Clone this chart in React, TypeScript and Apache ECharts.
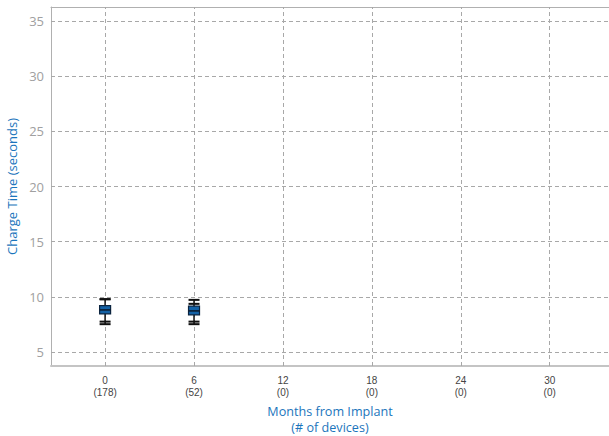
import React, { useEffect, useRef } from "react";
import * as echarts from "echarts";

const months = [0, 6, 12, 18, 24, 30];
const deviceCounts = [178, 52, 0, 0, 0, 0];
const yTicks = [5, 10, 15, 20, 25, 30, 35];
// box plot values per month
const boxMonths = [0, 6];
const boxMin = [7.53, 7.53];
const boxLowWhisker = [7.76, 7.76];
const boxQ1 = [8.46, 8.37];
const boxMedian = [8.82, 8.73];
const boxQ3 = [9.21, 9.16];
const boxHighWhisker = [9.79, 9.37];
const boxMax = [9.79, 9.73];

const BLUE = "#1b75bc";
const FONT = "'Open Sans', 'Noto Sans', sans-serif";
const SMALL_FONT = "'Liberation Sans', Arial, sans-serif";
const X_MIN = -3.65;
const X_MAX = 34;

export default function App() {
  const ref = useRef<HTMLDivElement>(null);
  useEffect(() => {
    if (!ref.current) return;
    const chart = echarts.init(ref.current, null, { renderer: "svg" });
    const boxData = boxMonths.map((m, i) => [
      m,
      boxMin[i],
      boxLowWhisker[i],
      boxQ1[i],
      boxMedian[i],
      boxQ3[i],
      boxHighWhisker[i],
      boxMax[i],
    ]);
    const dash = { color: "#a8a8a8", width: 1, type: [4, 3] as any };
    const smallLabel = {
      customValues: months,
      color: "#444",
      fontSize: 10,
      lineHeight: 11,
      margin: 9,
      fontFamily: SMALL_FONT,
    };
    chart.setOption({
      animation: false,
      textStyle: { fontFamily: FONT },
      grid: {
        left: 51,
        right: 0,
        top: 7,
        bottom: 70,
        containLabel: false,
        outerBoundsMode: "none",
      },
      xAxis: [
        {
          type: "value",
          min: X_MIN,
          max: X_MAX,
          name: "Months from Implant\n(# of devices)",
          nameLocation: "middle",
          nameGap: 37,
          nameTextStyle: { color: BLUE, fontSize: 12.6, lineHeight: 16, fontFamily: FONT },
          axisLine: { show: true, onZero: false, lineStyle: { color: "#c4c4c4", width: 2 } },
          axisTick: {
            show: true,
            inside: true,
            length: 4,
            customValues: months,
            lineStyle: { color: "#bbbbbb" },
          },
          axisLabel: smallLabel,
          splitLine: { show: false },
        },
        {
          type: "value",
          position: "top",
          min: X_MIN,
          max: X_MAX,
          axisLine: { show: true, onZero: false, lineStyle: { color: "#b0b0b0", width: 1 } },
          axisTick: { show: false },
          axisLabel: { show: false },
          splitLine: { show: false },
        },
        {
          type: "value",
          position: "bottom",
          offset: 11.5,
          min: X_MIN,
          max: X_MAX,
          axisLine: { show: false, onZero: false },
          axisTick: { show: false },
          axisLabel: {
            ...smallLabel,
            formatter: (v: number) => `(${deviceCounts[months.indexOf(v)]})`,
          },
          splitLine: { show: false },
        },
      ],
      yAxis: {
        type: "value",
        min: 3.74,
        max: 36.26,
        name: "Charge Time (seconds)",
        nameLocation: "middle",
        nameGap: 28,
        nameTextStyle: { color: BLUE, fontSize: 13, fontFamily: FONT },
        axisLine: { show: true, onZero: false, lineStyle: { color: "#b0b0b0", width: 1 } },
        axisTick: { show: false },
        axisLabel: {
          customValues: yTicks,
          color: "#a0a0a0",
          fontSize: 13,
          margin: 7,
          fontFamily: FONT,
        },
        splitLine: { show: false },
      },
      series: [
        {
          type: "custom",
          xAxisIndex: 0,
          yAxisIndex: 0,
          silent: true,
          data: boxData,
          z: 5,
          encode: { x: 0, y: [1, 2, 3, 4, 5, 6, 7] },
          markLine: {
            silent: true,
            symbol: "none",
            label: { show: false },
            lineStyle: dash,
            z: 1,
            data: [
              ...yTicks.map((v) => ({ yAxis: v })),
              ...months.map((v) => ({ xAxis: v })),
            ],
          },
          renderItem: (params: any, api: any) => {
            const x = api.value(0);
            const p = (k: number) => api.coord([x, api.value(k)]);
            const cx = p(1)[0];
            const yMin = p(1)[1];
            const yLw = p(2)[1];
            const yQ1 = p(3)[1];
            const yMed = p(4)[1];
            const yQ3 = p(5)[1];
            const yHw = p(6)[1];
            const yMax = p(7)[1];
            const hw = 5.5;
            const capStyle = { stroke: "#111", lineWidth: 2 };
            const children: any[] = [
              {
                type: "line",
                shape: { x1: cx, y1: yMin, x2: cx, y2: yMax },
                style: { stroke: "#111", lineWidth: 1.5 },
              },
              {
                type: "line",
                shape: { x1: cx - hw, y1: yMin, x2: cx + hw, y2: yMin },
                style: capStyle,
              },
              {
                type: "line",
                shape: { x1: cx - hw, y1: yLw, x2: cx + hw, y2: yLw },
                style: capStyle,
              },
              {
                type: "line",
                shape: { x1: cx - hw, y1: yHw, x2: cx + hw, y2: yHw },
                style: capStyle,
              },
              {
                type: "line",
                shape: { x1: cx - hw, y1: yMax, x2: cx + hw, y2: yMax },
                style: capStyle,
              },
              {
                type: "rect",
                shape: { x: cx - hw, y: yQ3, width: hw * 2, height: yQ1 - yQ3 },
                style: { fill: "#1462a6", stroke: "#0b2440", lineWidth: 1.2 },
              },
              {
                type: "line",
                shape: { x1: cx - hw, y1: yMed, x2: cx + hw, y2: yMed },
                style: { stroke: "#0b1a2c", lineWidth: 1.5 },
              },
            ];
            return { type: "group", children };
          },
        },
      ],
    });
    return () => chart.dispose();
  }, []);
  return (
    <div
      ref={ref}
      style={{ position: "fixed", left: 0, top: 0, width: 609, height: 436, background: "#fff" }}
    />
  );
}
